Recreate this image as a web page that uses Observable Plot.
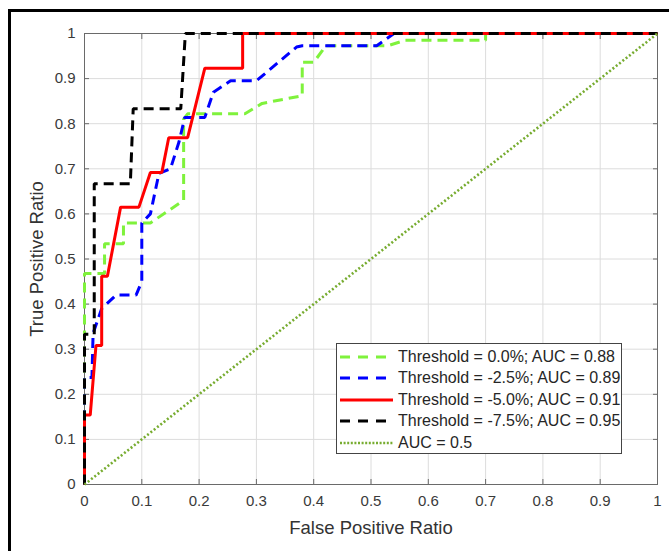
<!DOCTYPE html>
<html><head><meta charset="utf-8">
<script src="https://cdn.jsdelivr.net/npm/d3@7"></script>
<script src="https://cdn.jsdelivr.net/npm/@observablehq/plot@0.6"></script>
<style>
body{margin:0;background:#fff;font-family:"Liberation Sans",Arial,sans-serif;}
#wrap{position:relative;width:669px;height:551px;overflow:hidden;}
#frame{position:absolute;left:8px;top:9px;width:720px;height:620px;border-left:3px solid #000;border-top:3px solid #000;pointer-events:none;}
#legend{position:absolute;left:336px;top:343px;width:286px;height:111px;border:1px solid #444;background:#fff;box-sizing:border-box;padding-top:2px;}
.row{height:21.5px;display:flex;align-items:center;font-size:16px;color:#262626;white-space:nowrap;}
.row svg{margin-left:3px;margin-right:5px;flex:none;}
</style></head>
<body><div id="wrap"><div id="chart"></div><div id="frame"></div><div id="legend"></div></div>
<script>
// Tick values
const xTicks = [0,0.1,0.2,0.3,0.4,0.5,0.6,0.7,0.8,0.9,1];
const yTicks = [0,0.1,0.2,0.3,0.4,0.5,0.6,0.7,0.8,0.9,1];

// Threshold = 0.0%
const fpr00 = [0,0,0.035,0.035,0.068,0.068,0.115,0.173,0.173,0.18,0.28,0.31,0.38,0.38,0.40,0.415,0.42,0.53,0.56,0.70,0.70,1];
const tpr00 = [0,0.468,0.468,0.534,0.534,0.58,0.58,0.63,0.81,0.822,0.822,0.845,0.862,0.936,0.936,0.962,0.973,0.973,0.985,0.985,1,1];
// Threshold = -2.5%
const fpr25 = [0,0,0.013,0.015,0.03,0.055,0.09,0.10,0.10,0.115,0.13,0.15,0.165,0.175,0.21,0.225,0.255,0.30,0.37,0.38,0.51,0.54,1];
const tpr25 = [0,0.237,0.237,0.335,0.39,0.42,0.42,0.45,0.58,0.60,0.69,0.70,0.76,0.814,0.814,0.87,0.895,0.895,0.97,0.973,0.973,1,1];
// Threshold = -5.0%
const fpr50 = [0,0,0.01,0.02,0.03,0.03,0.04,0.063,0.095,0.115,0.135,0.147,0.18,0.195,0.21,0.276,0.276,1];
const tpr50 = [0,0.154,0.154,0.308,0.308,0.462,0.462,0.615,0.615,0.692,0.692,0.769,0.769,0.846,0.923,0.923,1,1];
// Threshold = -7.5%
const fpr75 = [0,0,0.017,0.017,0.08,0.085,0.168,0.176,1];
const tpr75 = [0,0.333,0.333,0.667,0.667,0.833,0.833,1,1];
// Chance line
const fprRef = [0,1];
const tprRef = [0,1];

const legendLabels = ["Threshold = 0.0%; AUC = 0.88","Threshold = -2.5%; AUC = 0.89","Threshold = -5.0%; AUC = 0.91","Threshold = -7.5%; AUC = 0.95","AUC = 0.5"];

const styles = [
  {stroke:"#7ff23c", dash:"10,6", w:3},
  {stroke:"#0000ff", dash:"10,6", w:3},
  {stroke:"#ff0000", dash:null, w:3},
  {stroke:"#000000", dash:"10,6", w:3},
  {stroke:"#77ac30", dash:"2,2.2", w:2.6}
];
const series = [[fpr00,tpr00],[fpr25,tpr25],[fpr50,tpr50],[fpr75,tpr75],[fprRef,tprRef]]
  .map(([xs,ys]) => xs.map((x,i)=>({x, y: ys[i]})));

const lineMarks = series.map((d,i)=>Plot.line(d,{x:"x",y:"y",stroke:styles[i].stroke,strokeWidth:styles[i].w,
  strokeDasharray:styles[i].dash, strokeLinejoin:"miter", strokeLinecap:"butt"}));

const fmt = d => String(d);

const chart = Plot.plot({
  width:669, height:551, marginLeft:84, marginRight:12, marginTop:33, marginBottom:67,
  style:{fontFamily:"Liberation Sans, Arial, sans-serif", fontSize:"15px", color:"#333", background:"transparent", overflow:"visible"},
  x:{domain:[0,1]}, y:{domain:[0,1]},
  marks:[
    Plot.gridX(xTicks,{stroke:"#dcdcdc", strokeOpacity:1}),
    Plot.gridY(yTicks,{stroke:"#dcdcdc", strokeOpacity:1}),
    Plot.frame({stroke:"#6a6a6a"}),
    Plot.axisX(xTicks,{anchor:"bottom", tickSize:-5, stroke:"#6a6a6a", text:null, label:null}),
    Plot.axisX(xTicks,{anchor:"top", tickSize:-5, stroke:"#6a6a6a", text:null, label:null}),
    Plot.axisY(yTicks,{anchor:"left", tickSize:-5, stroke:"#6a6a6a", text:null, label:null}),
    Plot.axisY(yTicks,{anchor:"right", tickSize:-5, stroke:"#6a6a6a", text:null, label:null}),
    ...lineMarks,
    Plot.axisX(xTicks,{anchor:"bottom", tickSize:0, tickPadding:11, tickFormat:fmt, fill:"#3a3a3a", label:null}),
    Plot.axisY(yTicks,{anchor:"left", tickSize:0, tickPadding:9, tickFormat:fmt, fill:"#3a3a3a", label:null}),
    Plot.axisX({anchor:"bottom", tickSize:0, text:null, ticks:[], label:"False Positive Ratio", labelAnchor:"center", labelOffset:49, labelArrow:"none", fontSize:18.5, fill:"#333"}),
    Plot.axisY({anchor:"left", tickSize:0, text:null, ticks:[], label:"True Positive Ratio", labelAnchor:"center", labelOffset:55, labelArrow:"none", fontSize:18.5, fill:"#333"})
  ]
});
document.getElementById("chart").appendChild(chart);

const leg = document.getElementById("legend");
legendLabels.forEach((t,i)=>{
  const row = document.createElement("div"); row.className="row";
  const s = styles[i];
  row.innerHTML = `<svg width="53" height="8"><line x1="0" y1="4" x2="53" y2="4" stroke="${s.stroke}" stroke-width="${s.w}" ${s.dash?`stroke-dasharray="${i===4?'2,1.6':'10,8'}"`:''}/></svg><span>${t}</span>`;
  leg.appendChild(row);
});
</script></body></html>
